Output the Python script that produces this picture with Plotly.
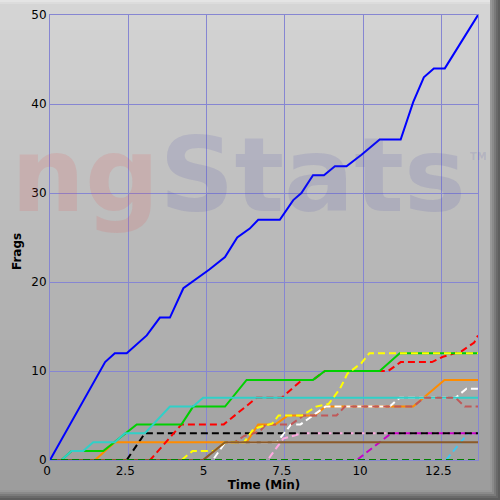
import plotly.graph_objects as go

# ---- data (time in minutes, cumulative frags) ----
blue_t = [0, 1.76, 2.07, 2.45, 3.09, 3.51, 3.83, 4.26, 5.09, 5.59, 5.98, 6.38, 6.65, 7.34, 7.77, 8.03,
          8.4, 8.75, 9.1, 9.47, 9.95, 10.53, 11.2, 11.6, 11.94, 12.26, 12.61, 13.67]
blue_y = [0, 11, 12, 12, 14, 16, 16, 19.3, 21.4, 22.8, 25, 26, 27, 27, 29.2, 30,
          32, 32, 33, 33, 34.3, 36, 36, 40.2, 43, 44, 44, 50]

red_t = [0, 3.2, 4.2, 5.55, 6.6, 7.4, 8.05, 8.4, 8.78, 10.8, 11.2, 12.2, 12.55, 13.14, 13.55, 13.67]
red_y = [0, 0, 4, 4, 7, 7, 9, 9, 10, 10, 11, 11, 11.6, 12.2, 13.2, 14]

green_t = [0, 0.37, 0.69, 1.70, 2.77, 4.2, 4.57, 5.59, 6.28, 8.4, 8.78, 10.53, 11.17, 13.67]
green_y = [0, 0, 1, 1, 4, 4, 6, 6, 9, 9, 10, 10, 12, 12]

cyan_t = [0, 0.37, 0.69, 1.06, 1.38, 2.07, 2.39, 3.03, 3.83, 4.57, 4.89, 13.67]
cyan_y = [0, 0, 1, 1, 2, 2, 3, 3, 6, 6, 7, 7]

orange_t = [0, 1.44, 2.07, 6.28, 6.65, 7.2, 7.6, 8.45, 8.8, 11.6, 12.6, 13.67]
orange_y = [0, 0, 2, 2, 4, 4, 5, 5, 6, 6, 9, 9]

black_t = [0, 2.45, 3.03, 13.67]
black_y = [0, 0, 3, 3]

brown_t = [0, 4.89, 5.59, 13.67]
brown_y = [0, 0, 2, 2]

yellow_t = [0, 4.2, 4.55, 5.24, 5.59, 6.2, 6.5, 7.1, 7.3, 8.05, 8.5, 8.9, 9.26, 9.5, 9.95, 10.2, 13.67]
yellow_y = [0, 0, 1, 1, 2, 2, 3.5, 4.1, 5, 5, 6, 6.3, 8, 9.7, 10.9, 12, 12]

white_t = [0, 5.2, 5.6, 7.25, 7.7, 8.0, 8.8, 10.85, 11.17, 12.95, 13.3, 13.67]
white_y = [0, 0, 2, 2, 4, 4, 6, 6, 7, 7, 8, 8]

pink_t = [0, 6.95, 7.45, 8.05, 13.67]
pink_y = [0, 0, 2.4, 3, 3]

rosy_t = [0, 4.89, 5.59, 5.9, 6.2, 6.7, 6.9, 7.7, 8.1, 9.15, 9.42, 11.6, 11.95, 12.95, 13.25, 13.67]
rosy_y = [0, 0, 2, 2, 2.7, 3.2, 4, 4, 5, 5, 6, 6, 7, 7, 6, 6]

magenta_t = [0, 9.8, 10.9, 13.67]
magenta_y = [0, 0, 3, 3]

lightblue_t = [0, 12.65, 13.35, 13.67]
lightblue_y = [0, 0, 3, 3]

darkgreen_t = [0, 13.67]
darkgreen_y = [0, 0]

x_ticks = [0, 2.5, 5, 7.5, 10, 12.5]
x_labels = ["0", "2.5", "5", "7.5", "10", "12.5"]
y_ticks = [0, 10, 20, 30, 40, 50]

# ---- figure geometry (pixels) ----
W = H = 500
L, R, T, B = 50, 22, 15, 40
PW, PH = W - L - R, H - T - B


def px(x):
    return (x - L) / PW


def py(y):
    return (H - B - y) / PH


DASH = "7px,4px"
series = [
    # name, t, y, colour, dashed  (drawing order = bottom to top)
    ("lightblue", lightblue_t, lightblue_y, "#40c8f0", True),
    ("pink", pink_t, pink_y, "#ffa8e0", True),
    ("magenta", magenta_t, magenta_y, "#c800c8", True),
    ("black", black_t, black_y, "#000000", True),
    ("orange", orange_t, orange_y, "#ff8c00", False),
    ("white", white_t, white_y, "#ffffff", True),
    ("red", red_t, red_y, "#ff0000", True),
    ("green", green_t, green_y, "#00d000", False),
    ("cyan", cyan_t, cyan_y, "#30d0c8", False),
    ("rosy", rosy_t, rosy_y, "#c05858", True),
    ("yellow", yellow_t, yellow_y, "#ffff00", True),
    ("brown", brown_t, brown_y, "#8c5a28", False),
    ("darkgreen", darkgreen_t, darkgreen_y, "#008000", True),
    ("blue", blue_t, blue_y, "#0000ff", False),
]

fig = go.Figure()
for name, t, y, col, dashed in series:
    fig.add_trace(go.Scatter(x=t, y=y, mode="lines", name=name,
                             line=dict(color=col, width=2, dash=DASH if dashed else "solid")))

# background gradient in horizontal bands
shapes = []
n = 50
for i in range(n):
    y0, y1 = i * H / n, (i + 1) * H / n
    g = int(214 - (214 - 156) * (i + 0.5) / n)
    shapes.append(dict(type="rect", xref="paper", yref="paper", layer="below",
                       x0=px(0), x1=px(W), y0=py(y1), y1=py(y0),
                       fillcolor=f"rgb({g},{g},{g})", line_width=0))
# bevel: light top, dark bottom/right
for k, c in enumerate(["#e4e4e4", "#dcdcdc"]):
    shapes.append(dict(type="rect", xref="paper", yref="paper", layer="below",
                       x0=px(0), x1=px(W), y0=py(2 * k + 2), y1=py(2 * k),
                       fillcolor=c, line_width=0))
for k, c in enumerate(["#989898", "#8a8a8a", "#7a7a7a", "#6a6a6a", "#5e5e5e"]):
    shapes.append(dict(type="rect", xref="paper", yref="paper", layer="below",
                       x0=px(0), x1=px(W), y0=py(490 + 2 * k + 2), y1=py(490 + 2 * k),
                       fillcolor=c, line_width=0))
    shapes.append(dict(type="rect", xref="paper", yref="paper", layer="below",
                       x0=px(490 + 2 * k), x1=px(490 + 2 * k + 2), y0=py(500), y1=py(0),
                       fillcolor=c, line_width=0))

grid = "#8686d2"
annotations = [
    dict(text="<b><span style='color:rgba(235,70,70,0.14)'>ng</span>"
              "<span style='color:rgba(70,70,170,0.14)'>Stats</span></b>",
         xref="paper", yref="paper", x=px(238), y=py(175), xanchor="center", yanchor="middle",
         showarrow=False, font=dict(family="DejaVu Sans", size=104)),
    dict(text="<b>TM</b>", xref="paper", yref="paper", x=px(479), y=py(156),
         xanchor="center", yanchor="middle", showarrow=False,
         font=dict(family="DejaVu Sans", size=10, color="rgba(70,70,170,0.15)")),
    dict(text="<b>Frags</b>", xref="paper", yref="paper", x=px(17), y=py(252),
         xanchor="center", yanchor="middle", textangle=-90, showarrow=False,
         font=dict(family="DejaVu Sans", size=12, color="black")),
]

fig.update_xaxes(range=[0, 13.67], tickvals=x_ticks, ticktext=x_labels, showgrid=True,
                 gridcolor=grid, gridwidth=1, showline=True, linecolor=grid, mirror=True,
                 zeroline=False, ticks="", ticklabelshift=-3, automargin=False,
                 tickfont=dict(family="DejaVu Sans", size=12, color="black"),
                 title=dict(text="<b>Time (Min)</b>", standoff=3,
                            font=dict(family="DejaVu Sans", size=12, color="black")))
fig.update_yaxes(range=[0, 50], tickvals=y_ticks, showgrid=True, gridcolor=grid, gridwidth=1,
                 showline=True, linecolor=grid, mirror=True, zeroline=False, ticks="",
                 automargin=False,
                 tickfont=dict(family="DejaVu Sans", size=12, color="black"))

fig.update_layout(width=W, height=H, margin=dict(l=L, r=R, t=T, b=B, autoexpand=False),
                  paper_bgcolor="#bcbcbc", plot_bgcolor="rgba(0,0,0,0)",
                  showlegend=False, shapes=shapes, annotations=annotations)

# drop the page's default body margin so the chart sits at the window's corner
fig.write_html("out.html", config={"displayModeBar": False},
               post_script="document.body.style.margin='0';")
